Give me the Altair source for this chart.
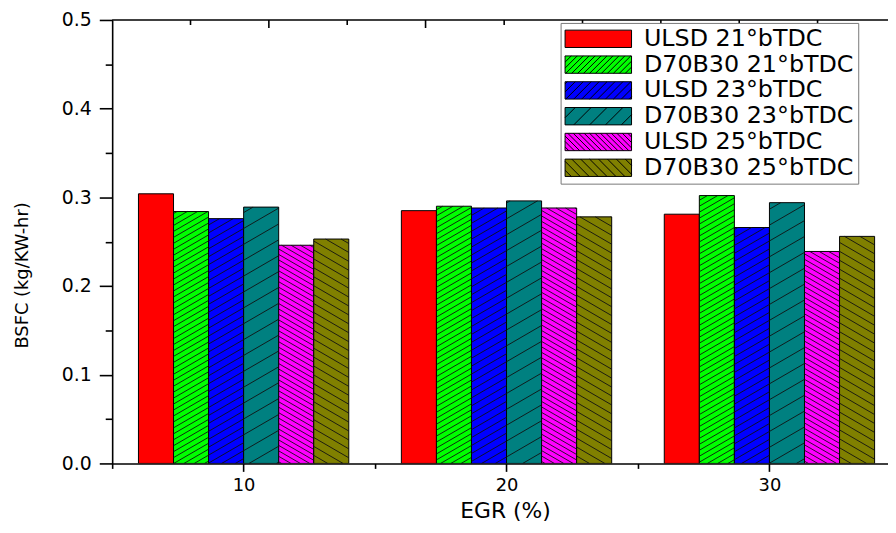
import math
import altair as alt
import pandas as pd

# ---------------- data ----------------
egr = [10, 20, 30]
series = ["ULSD 21°bTDC", "D70B30 21°bTDC", "ULSD 23°bTDC",
          "D70B30 23°bTDC", "ULSD 25°bTDC", "D70B30 25°bTDC"]
ulsd_21 = [0.304, 0.285, 0.281]
d70b30_21 = [0.284, 0.290, 0.302]
ulsd_23 = [0.276, 0.288, 0.266]
d70b30_23 = [0.289, 0.296, 0.294]
ulsd_25 = [0.246, 0.288, 0.239]
d70b30_25 = [0.253, 0.278, 0.256]
values = [ulsd_21, d70b30_21, ulsd_23, d70b30_23, ulsd_25, d70b30_25]
x_ticks = [5, 10, 15, 20, 25, 30]
y_ticks = [0.0, 0.05, 0.1, 0.15, 0.2, 0.25, 0.3, 0.35, 0.4, 0.45, 0.5]
top_major_ticks = [5.0, 10.96, 16.92, 22.89, 28.85]
top_minor_ticks = [7.98, 13.94, 19.91, 25.87, 31.83]

# ---------------- style ----------------
colors = ["#ff0000", "#00ff00", "#0000ff", "#008080", "#ff00ff", "#808000"]
hatch_dir = [None, "/", "/", "/", "\\", "\\"]
hatch_gap = [0, 6.0, 8.0, 16.0, 5.5, 9.0]
FONT = "DejaVu Sans"

W, H = 782, 447
PX_X = 26.5                     # pixels per EGR unit
XMIN = 5.0
XMAX = XMIN + W / PX_X
YMAX = 0.5
PX_Y = H / YMAX
GROUP_W = 8.0
BAR_W = GROUP_W / len(series)


def hatch(x0, x1, u0, u1, d, gap, s):
    segs = []
    if d is None:
        return segs
    if d == "/":
        cmin, cmax = u0 - s * x1, u1 - s * x0
    else:
        cmin, cmax = u0 + s * x0, u1 + s * x1
    k = math.ceil(cmin / gap)
    while k * gap <= cmax:
        c = k * gap
        if d == "/":
            xa = max(x0, (u0 - c) / s)
            xb = min(x1, (u1 - c) / s)
            if xb - xa > 1e-6:
                segs.append((xa, s * xa + c, xb, s * xb + c))
        else:
            xa = max(x0, (c - u1) / s)
            xb = min(x1, (c - u0) / s)
            if xb - xa > 1e-6:
                segs.append((xa, -s * xa + c, xb, -s * xb + c))
        k += 1
    return segs


bar_rows, hatch_rows = [], []
for gi, g in enumerate(egr):
    for si, name in enumerate(series):
        v = values[si][gi]
        x0 = g - GROUP_W / 2 + si * BAR_W
        x1 = x0 + BAR_W
        bar_rows.append({"egr": g, "series": name, "x0": x0, "x1": x1,
                         "bsfc": v, "fillc": colors[si]})
        px0, px1 = (x0 - XMIN) * PX_X, (x1 - XMIN) * PX_X
        for (xa, ua, xb, ub) in hatch(px0, px1, 0.0, v * PX_Y,
                                      hatch_dir[si], hatch_gap[si], 0.58):
            hatch_rows.append({"hx": XMIN + xa / PX_X, "hy": ua / PX_Y,
                               "hx2": XMIN + xb / PX_X, "hy2": ub / PX_Y})
bars_df = pd.DataFrame(bar_rows)
hatch_df = pd.DataFrame(hatch_rows)

# legend swatch shapes (rectangle + hatch lines as a custom symbol path)
LS, LW = 17.5, 67.0
unit = LS / 2
hw = LW / 2 / unit
paths = []
for si in range(len(series)):
    p = f"M{-hw:.3f},-1H{hw:.3f}V1H{-hw:.3f}Z"
    for (xa, ua, xb, ub) in hatch(-LW / 2, LW / 2, -LS / 2, LS / 2,
                                  hatch_dir[si], hatch_gap[si], 1.0):
        p += f"M{xa / unit:.3f},{-ua / unit:.3f}L{xb / unit:.3f},{-ub / unit:.3f}"
    paths.append(p)

x_scale = alt.Scale(domain=[XMIN, XMAX], nice=False, zero=False)
y_scale = alt.Scale(domain=[0, YMAX], nice=False)

x_axis = alt.Axis(
    values=x_ticks, format="d",
    labelExpr="datum.value % 10 === 0 ? datum.label : ''",
    tickSize={"condition": {"test": "datum.value % 10 === 0", "value": 8}, "value": 5},
    labelFont=FONT, labelFontSize=18, labelColor="black", labelPadding=5,
    labelFlush=False, domainColor="black", domainWidth=1.6,
    tickColor="black", tickWidth=1.6, grid=False,
    title="EGR (%)", titleFont=FONT, titleFontSize=22, titleFontWeight="normal",
    titleColor="black", titleX=396, titleY=48, titleBaseline="middle",
)
y_axis = alt.Axis(
    values=y_ticks, format=".1f",
    labelExpr="abs(datum.value*10 - round(datum.value*10)) < 1e-6 ? datum.label : ''",
    tickSize={"condition": {"test": "abs(datum.value*10 - round(datum.value*10)) < 1e-6",
                            "value": 13}, "value": 7},
    labelFont=FONT, labelFontSize=19, labelColor="black", labelPadding=8,
    labelFlush=False, domainColor="black", domainWidth=1.6,
    tickColor="black", tickWidth=1.6, grid=False,
    title="BSFC (kg/KW-hr)", titleFont=FONT, titleFontSize=18, titleFontWeight="normal",
    titleColor="black", titleX=-90, titleY=257, titleAngle=270,
    titleBaseline="middle", titleAlign="center",
)

bars = alt.Chart(bars_df).mark_rect(stroke="black", strokeWidth=1, opacity=1, clip=True).encode(
    x=alt.X("x0:Q", scale=x_scale, axis=x_axis),
    x2="x1:Q",
    y=alt.Y("bsfc:Q", scale=y_scale, axis=y_axis),
    y2=alt.datum(0),
    fill=alt.Fill("fillc:N", scale=None),
)

hatches = alt.Chart(hatch_df).mark_rule(color="#111111", strokeWidth=0.9, clip=True).encode(
    x=alt.X("hx:Q", scale=x_scale),
    x2="hx2:Q",
    y=alt.Y("hy:Q", scale=y_scale),
    y2="hy2:Q",
)

top_line = alt.Chart(pd.DataFrame({"v": [YMAX]})).mark_rule(color="black", strokeWidth=1.6).encode(
    y=alt.Y("v:Q", scale=y_scale),
    x=alt.value(0), x2=alt.value(W),
)

top_major = alt.Chart(pd.DataFrame({"t": top_major_ticks})).mark_rule(
    color="black", strokeWidth=1.6, clip=True).encode(
    x=alt.X("t:Q", scale=x_scale), y=alt.value(0), y2=alt.value(8))
top_minor = alt.Chart(pd.DataFrame({"t": top_minor_ticks})).mark_rule(
    color="black", strokeWidth=1.6, clip=True).encode(
    x=alt.X("t:Q", scale=x_scale), y=alt.value(0), y2=alt.value(5))

legend_pts = alt.Chart(pd.DataFrame({"series": series})).mark_point(
    filled=True, opacity=1, stroke="black", strokeWidth=1, size=LS * LS, clip=True
).encode(
    x=alt.value(-400), y=alt.value(-400),
    color=alt.Color("series:N", sort=series,
                    scale=alt.Scale(domain=series, range=colors),
                    legend=alt.Legend(title=None)),
    shape=alt.Shape("series:N", sort=series,
                    scale=alt.Scale(domain=series, range=paths),
                    legend=alt.Legend(title=None)),
)

chart = alt.layer(bars, hatches, top_line, top_major, top_minor, legend_pts).properties(
    width=W, height=H,
    autosize=alt.AutoSizeParams(type="none"),
    padding={"left": 105, "top": 10, "right": 0, "bottom": 60},
).configure(font=FONT).configure_view(strokeWidth=0).configure_legend(
    orient="none", legendX=452, legendY=3,
    labelFont=FONT, labelFontSize=24, labelColor="black",
    strokeColor="#777777", fillColor="white", padding=4, rowPadding=2,
    symbolSize=LS * LS, symbolStrokeColor="black", symbolStrokeWidth=1,
    symbolOffset=22, labelOffset=34, labelLimit=400,
)

chart.save("out.html", embed_options={"renderer": "svg", "actions": False})
